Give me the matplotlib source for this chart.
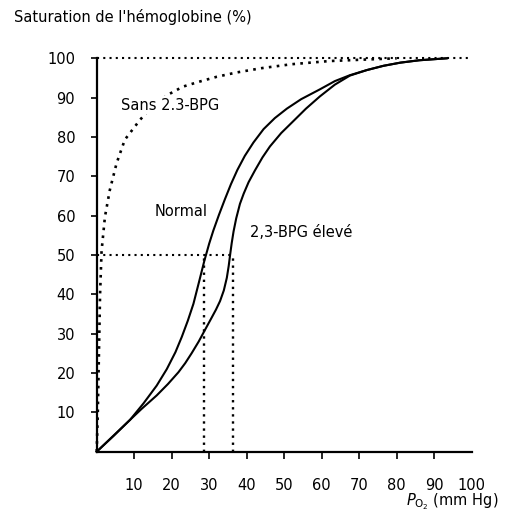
import matplotlib
matplotlib.use("Agg")
import matplotlib.pyplot as plt

# ---- data ----
normal_x = [0, 4.5, 8.9, 12.5, 16, 18.7, 21, 22.7, 24.3, 25.8, 27.3, 28.7, 30, 31.1, 32.6,
            34.2, 35.8, 37.5, 39.5, 41.8, 44.5, 47.5, 50.7, 54.5, 59.5, 63.5, 67.5, 72,
            76.5, 81, 86, 93.3]
normal_y = [0, 4, 8.1, 12.3, 16.8, 21, 25.3, 29.2, 33.3, 37.6, 43.2, 48.5, 52.9, 56.2, 60.2,
            64.2, 68.0, 71.6, 75.2, 78.6, 82.0, 84.8, 87.2, 89.6, 92.1, 94.2, 95.7, 97.0,
            98.1, 98.9, 99.5, 100]

eleve_x = [0, 4.5, 8.9, 12, 16, 19, 21.8, 23.6, 25.3, 27.2, 28.9, 30.5, 31.8, 32.9, 33.9,
           34.7, 35.2, 35.6, 36.0, 36.5, 37.2, 38.2, 39.2, 40.5, 42.2, 44.2, 46.2, 49.2,
           52.4, 55.8, 59.5, 63.5, 67.5, 72, 76.5, 81, 86, 93.3]
eleve_y = [0, 4.1, 8.1, 10.9, 14.3, 17.2, 20.2, 22.5, 25.0, 28.0, 31.0, 33.8, 36.1, 38.3, 41.0,
           44.2, 47.2, 50.2, 53.0, 56.0, 59.3, 63.0, 65.6, 68.5, 71.5, 74.8, 77.6, 81.0,
           84.0, 87.2, 90.3, 93.3, 95.6, 97.0, 98.1, 98.9, 99.5, 100]

sans_x = [0, 0.3, 0.5, 0.7, 0.9, 1.3, 2.2, 3.5, 5.3, 7.5, 11.5, 15, 19.5, 23, 27.5, 32,
          37.3, 44, 52, 62, 72, 80]
sans_y = [0, 10, 20, 30, 40, 51, 59.7, 66.5, 73.3, 79.3, 84.3, 88, 91, 92.8, 94.1, 95.3,
          96.4, 97.5, 98.5, 99.3, 99.7, 100]

p50_normal = 28.7
p50_eleve = 36.4
p50_line_end = 35.6
x_ticks = [10, 20, 30, 40, 50, 60, 70, 80, 90, 100]
y_ticks = [10, 20, 30, 40, 50, 60, 70, 80, 90, 100]

plt.rcParams['font.family'] = ['DejaVu Sans']

fig = plt.figure(figsize=(5.07, 5.22), dpi=100)
ax = fig.add_axes([0.1907, 0.1347, 0.7397, 0.7536])
ax.set_xlim(0, 100)
ax.set_ylim(0, 100)

dot = (0, (1, 2))
# reference dotted lines
ax.plot([0, 100], [100, 100], color='black', lw=1.5, ls=dot, clip_on=False)
ax.plot([0, p50_line_end], [50, 50], color='black', lw=1.5, ls=dot)
ax.plot([p50_normal, p50_normal], [0, 50], color='black', lw=1.7, ls=dot)
ax.plot([p50_eleve, p50_eleve], [0, 50], color='black', lw=1.7, ls=dot)

ax.plot(sans_x, sans_y, color='black', lw=1.9, ls=dot, clip_on=False)
ax.plot(normal_x, normal_y, color='black', lw=1.5, clip_on=False, solid_joinstyle='round')
ax.plot(eleve_x, eleve_y, color='black', lw=1.5, clip_on=False, solid_joinstyle='round')

ax.text(19.6, 88.1, 'Sans 2.3-BPG', fontsize=10.5, ha='center', va='center',
        bbox=dict(facecolor='white', edgecolor='none', pad=1))
ax.text(22.6, 61.0, 'Normal', fontsize=10.5, ha='center', va='center')
ax.text(40.9, 55.6, '2,3-BPG élevé', fontsize=10.5, ha='left', va='center')

for s in ['top', 'right']:
    ax.spines[s].set_visible(False)
for s in ['left', 'bottom']:
    ax.spines[s].set_linewidth(1.6)

ax.set_xticks(x_ticks)
ax.set_yticks(y_ticks)
ax.set_xticklabels([str(v) for v in x_ticks])
ax.set_yticklabels([str(v) for v in y_ticks])
ax.tick_params(axis='x', length=5, width=1.2, pad=14, labelsize=10.5)
ax.tick_params(axis='y', length=4.5, width=1.2, pad=11, labelsize=10.5)
ax.xaxis.get_major_ticks()[-1].tick1line.set_visible(False)

fig.text(14 / 507, 1 - 17 / 522, "Saturation de l'hémoglobine (%)", fontsize=10.5,
         ha='left', va='center')
fig.text(498 / 507, 1 - 502 / 522, r'$P_{\mathrm{O_2}}$ (mm Hg)', fontsize=10.5,
         ha='right', va='center')

fig.savefig('out.png', dpi=100)
